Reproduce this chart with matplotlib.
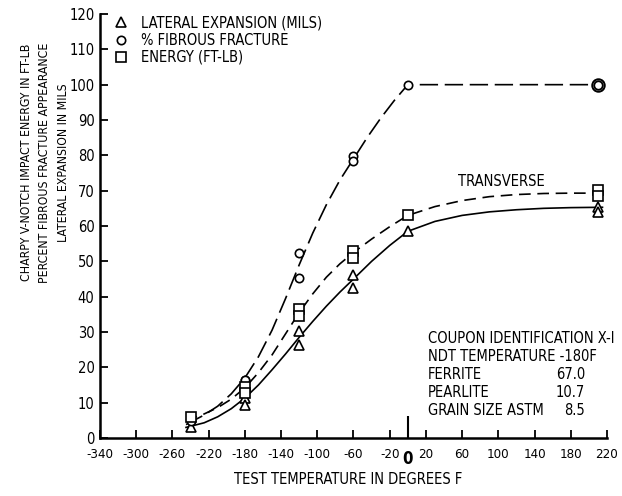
import matplotlib.pyplot as plt

# data (temperature in F)
temps_pts = [-240, -180, -180, -120, -120, -60, -60, 0, 210, 210]
lateral_pts = [3.2, 11.3, 9.3, 30.4, 26.3, 46.2, 42.5, 58.6, 65.5, 64.1]
fibrous_pts = [4.8, 16.4, 16.4, 52.5, 45.4, 79.7, 78.3, 100.0, 100.0, 100.0]
energy_pts = [6.0, 14.4, 12.7, 36.5, 34.6, 52.8, 50.9, 63.2, 70.3, 68.4]

# hand drawn curves
fib_curve_t = [-245, -225, -210, -195, -180, -165, -150, -135, -120, -105, -90, -75, -60, -45, -30, -15, 0, 210]
fib_curve_y = [3.8, 6.5, 9.0, 12.5, 17.0, 23.0, 30.5, 39.5, 49.0, 58.0, 66.0, 73.0, 79.0, 85.0, 90.5, 95.5, 100.0, 100.0]

en_curve_t = [-245, -225, -210, -195, -180, -165, -150, -135, -120, -105, -90, -75, -60, -40, -20, 0, 30, 60, 90, 120, 150, 180, 215]
en_curve_y = [5.0, 6.8, 8.6, 11.0, 14.2, 18.5, 23.5, 29.5, 35.5, 40.8, 45.5, 49.3, 52.5, 56.3, 59.8, 63.0, 65.5, 67.2, 68.3, 68.9, 69.2, 69.3, 69.3]

lat_curve_t = [-245, -225, -210, -195, -180, -165, -150, -135, -120, -105, -90, -75, -60, -40, -20, 0, 30, 60, 90, 120, 150, 180, 215]
lat_curve_y = [3.0, 4.3, 6.0, 8.3, 11.3, 15.0, 19.3, 23.8, 28.5, 33.0, 37.3, 41.3, 45.0, 50.0, 54.5, 58.5, 61.3, 63.0, 64.0, 64.6, 65.0, 65.2, 65.3]

info_lines = ["COUPON IDENTIFICATION X-I", "NDT TEMPERATURE -180F", "FERRITE", "PEARLITE", "GRAIN SIZE ASTM"]
info_vals = ["", "", "67.0", "10.7", "8.5"]

plt.rcParams['font.family'] = 'DejaVu Sans'
plt.rcParams['font.stretch'] = 'condensed'
plt.rcParams['font.size'] = 10.5

fig = plt.figure(figsize=(6.22, 4.96), dpi=100)
ax = fig.add_axes([100 / 622, 58 / 496, 507 / 622, 424 / 496])

ax.plot(fib_curve_t, fib_curve_y, color='black', lw=1.2, dashes=(11, 4))
ax.plot(en_curve_t, en_curve_y, color='black', lw=1.2, dashes=(7, 4))
ax.plot(lat_curve_t, lat_curve_y, color='black', lw=1.2)

ms = 6.5
ax.plot(temps_pts, lateral_pts, ls='none', marker='^', ms=ms + 1, mfc='white', mec='black', mew=1.2,
        label='LATERAL EXPANSION (MILS)')
ax.plot(temps_pts, fibrous_pts, ls='none', marker='o', ms=ms - 0.5, mfc='white', mec='black', mew=1.2,
        label='% FIBROUS FRACTURE')
ax.plot(temps_pts, energy_pts, ls='none', marker='s', ms=ms, mfc='white', mec='black', mew=1.2,
        label='ENERGY (FT-LB)')
# second (duplicate) fibrous point at 210 shows as a bigger ring
ax.plot([temps_pts[-1]], [fibrous_pts[-1]], ls='none', marker='o', ms=ms + 2.5, mfc='none', mec='black', mew=1.4)

ax.set_xlim(-340, 220)
ax.set_ylim(0, 120)
xt = list(range(-340, 0, 40)) + list(range(20, 221, 40))
ax.set_xticks(xt)
ax.set_xticklabels([str(v) for v in xt], fontsize=9.5)
ax.set_xticks([0], minor=True)
ax.set_xticklabels(['0'], minor=True, fontweight='bold', fontsize=12)
ax.set_yticks(range(0, 121, 10))
ax.set_yticklabels([str(v) for v in range(0, 121, 10)], fontsize=10.5)
ax.tick_params(which='major', direction='in', length=6, width=1.3)
ax.tick_params(axis='x', which='major', pad=7)
ax.tick_params(axis='x', which='minor', direction='in', length=16, width=1.5, pad=9)
ax.tick_params(axis='y', which='major', pad=4)

for s in ['top', 'right']:
    ax.spines[s].set_visible(False)
for s in ['left', 'bottom']:
    ax.spines[s].set_linewidth(1.8)

ax.set_xlabel('TEST TEMPERATURE IN DEGREES F')
ax.xaxis.set_label_coords(0.49, -0.08)
ax.set_ylabel('CHARPY V-NOTCH IMPACT ENERGY IN FT-LB\nPERCENT FIBROUS FRACTURE APPEARANCE\nLATERAL EXPANSION IN MILS',
              fontsize=8.8, linespacing=1.55)
ax.yaxis.set_label_coords(-0.06, 0.65)

ax.legend(loc='upper left', bbox_to_anchor=(0.015, 1.01), frameon=False, handlelength=1.0,
          handletextpad=0.9, labelspacing=0.15, borderaxespad=0, fontsize=10.5)

ax.text(103, 72.5, 'TRANSVERSE', ha='center', va='center', fontsize=10.5)

y0 = 28.3
for i, line in enumerate(info_lines):
    yy = y0 - i * 5.1
    ax.text(22, yy, line, ha='left', va='center', fontsize=10.5, clip_on=False)
    if info_vals[i]:
        ax.text(196, yy, info_vals[i], ha='right', va='center', fontsize=10.5)

fig.savefig('out.png', dpi=100)
